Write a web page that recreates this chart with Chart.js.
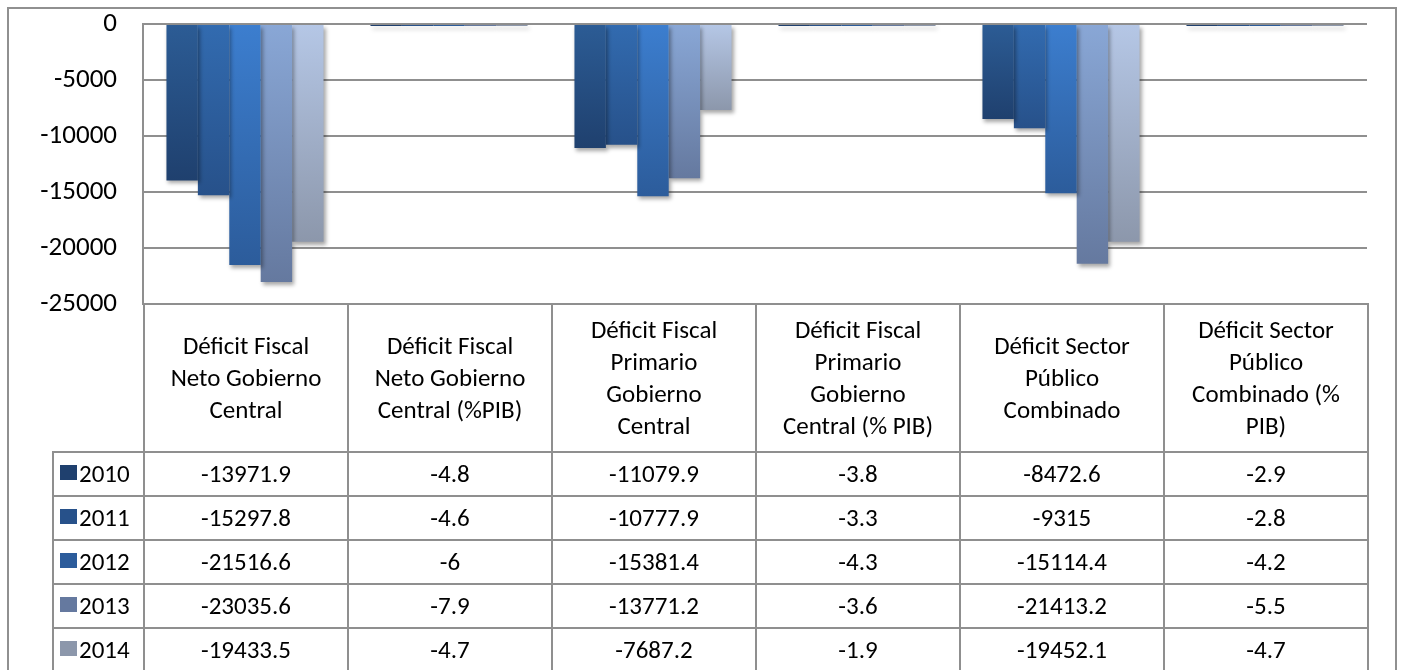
<!DOCTYPE html>
<html>
<head>
<meta charset="utf-8">
<script src="https://cdn.jsdelivr.net/npm/chart.js@4.4.1/dist/chart.umd.min.js"></script>
<style>
  html, body { margin: 0; padding: 0; background: #fff; overflow: hidden; }
  #wrap { position: relative; width: 1404px; height: 670px; overflow: hidden; font-family: Carlito, Lato, sans-serif; }
  #marco { position: absolute; left: 7px; top: 7px; width: 1390px; height: 700px; border: 2px solid #909090; box-sizing: border-box; }
  #grafico { position: absolute; left: 0; top: 0; }
  #tabla { position: absolute; border-collapse: collapse; table-layout: fixed; font-size: 25px; color: #000; }
  #tabla td { border: 2px solid #8f8f8f; text-align: center; padding: 0; }
  #tabla td.vacia { border-top: none; border-left: none; }
  #tabla tr.cab td { height: 146px; line-height: 32px; vertical-align: middle; }
  #tabla tr.fila td { height: 42px; line-height: 42px; }
  #tabla td.leyenda { text-align: left; padding-left: 6px; white-space: nowrap; }
  .clave { display: inline-block; width: 17px; height: 15px; margin-right: 2px; vertical-align: 2px; }
</style>
</head>
<body>
<div id="wrap">
  <div id="marco"></div>
  <canvas id="grafico" width="1404" height="670"></canvas>
</div>
<script>
// Categorías (encabezados de la tabla, con saltos de línea)
const categorias = [
  ["Déficit Fiscal", "Neto Gobierno", "Central"],
  ["Déficit Fiscal", "Neto Gobierno", "Central (%PIB)"],
  ["Déficit Fiscal", "Primario", "Gobierno", "Central"],
  ["Déficit Fiscal", "Primario", "Gobierno", "Central (% PIB)"],
  ["Déficit Sector", "Público", "Combinado"],
  ["Déficit Sector", "Público", "Combinado (%", "PIB)"],
];

const anios = ["2010", "2011", "2012", "2013", "2014"];

const valores2010 = [-13971.9, -4.8, -11079.9, -3.8, -8472.6, -2.9];
const valores2011 = [-15297.8, -4.6, -10777.9, -3.3, -9315, -2.8];
const valores2012 = [-21516.6, -6, -15381.4, -4.3, -15114.4, -4.2];
const valores2013 = [-23035.6, -7.9, -13771.2, -3.6, -21413.2, -5.5];
const valores2014 = [-19433.5, -4.7, -7687.2, -1.9, -19452.1, -4.7];
const series = [valores2010, valores2011, valores2012, valores2013, valores2014];

const ticksY = [0, -5000, -10000, -15000, -20000, -25000];

// Colores: arriba / abajo del degradado, y la clave de la leyenda
const coloresArriba = ["#2c5c95", "#326bb0", "#3c7ecf", "#89a7d6", "#b5c7e6"];
const coloresAbajo = ["#1f406e", "#27518a", "#2c5c9b", "#65799f", "#8c97ab"];

function degradado(context, i) {
  const chart = context.chart;
  const area = chart.chartArea;
  if (!area) return coloresAbajo[i];
  const y = chart.scales.y;
  const v = context.raw;
  const y0 = y.getPixelForValue(0);
  let y1 = y.getPixelForValue(v);
  if (Math.abs(y1 - y0) < 1) y1 = y0 + 1;
  const g = chart.ctx.createLinearGradient(0, y0, 0, y1);
  g.addColorStop(0, coloresArriba[i]);
  g.addColorStop(1, coloresAbajo[i]);
  return g;
}

const sombra = {
  id: "sombra",
  beforeDatasetsDraw(chart) {
    const ctx = chart.ctx;
    ctx.save();
    ctx.shadowColor = "rgba(0,0,0,0.35)";
    ctx.shadowBlur = 4;
    ctx.shadowOffsetX = 2;
    ctx.shadowOffsetY = 3;
  },
  afterDatasetsDraw(chart) {
    chart.ctx.restore();
  },
};

const datos = {
  labels: categorias,
  datasets: anios.map((a, i) => ({
    label: a,
    data: series[i],
    backgroundColor: (c) => degradado(c, i),
    borderWidth: 0,
    minBarLength: 2,
    categoryPercentage: 0.77,
    barPercentage: 1,
  })),
};

const config = {
  type: "bar",
  data: datos,
  options: {
    responsive: false,
    animation: false,
    layout: { padding: { left: 0, top: 24, right: 37, bottom: 366 } },
    plugins: { legend: { display: false }, tooltip: { enabled: false } },
    scales: {
      x: {
        display: false,
        grid: { display: false },
      },
      y: {
        min: -25000,
        max: 0,
        afterFit(scale) {
          scale.width = 143;
          scale.paddingTop = 0;
          scale.paddingBottom = 0;
        },
        afterBuildTicks(scale) { scale.ticks = ticksY.map((v) => ({ value: v })); },
        border: { display: true, color: "#8f8f8f", width: 2 },
        grid: { color: "#8f8f8f", lineWidth: 2, drawTicks: false },
        ticks: {
          padding: 26,
          color: "#000",
          font: { family: "Carlito, Lato, sans-serif", size: 27 },
          callback: (v) => String(v),
        },
      },
    },
  },
  plugins: [sombra],
};

const ctx = document.getElementById("grafico").getContext("2d");
const grafico = new Chart(ctx, config);

// Tabla de datos alineada con las categorías del eje X
function construirTabla(chart) {
  const x = chart.scales.x;
  const area = chart.chartArea;
  const ancho = (area.right - area.left) / categorias.length;
  const anchoLeyenda = 91;
  const tabla = document.createElement("table");
  tabla.id = "tabla";
  tabla.style.left = (x.getPixelForValue(0) - ancho / 2 - anchoLeyenda) + "px";
  tabla.style.top = (area.bottom - 1) + "px";
  const cg = document.createElement("colgroup");
  [anchoLeyenda].concat(categorias.map(() => ancho)).forEach((w) => {
    const c = document.createElement("col");
    c.style.width = w + "px";
    cg.appendChild(c);
  });
  tabla.appendChild(cg);

  const cab = document.createElement("tr");
  cab.className = "cab";
  const vacia = document.createElement("td");
  vacia.className = "vacia";
  cab.appendChild(vacia);
  categorias.forEach((lineas) => {
    const td = document.createElement("td");
    td.innerHTML = lineas.join("<br>");
    cab.appendChild(td);
  });
  tabla.appendChild(cab);

  anios.forEach((a, i) => {
    const tr = document.createElement("tr");
    tr.className = "fila";
    const ley = document.createElement("td");
    ley.className = "leyenda";
    ley.innerHTML = '<span class="clave" style="background:' + coloresAbajo[i] + '"></span>' + a;
    tr.appendChild(ley);
    series[i].forEach((v) => {
      const td = document.createElement("td");
      td.textContent = String(v);
      tr.appendChild(td);
    });
    tabla.appendChild(tr);
  });
  document.getElementById("wrap").appendChild(tabla);
}
construirTabla(grafico);
</script>
</body>
</html>
